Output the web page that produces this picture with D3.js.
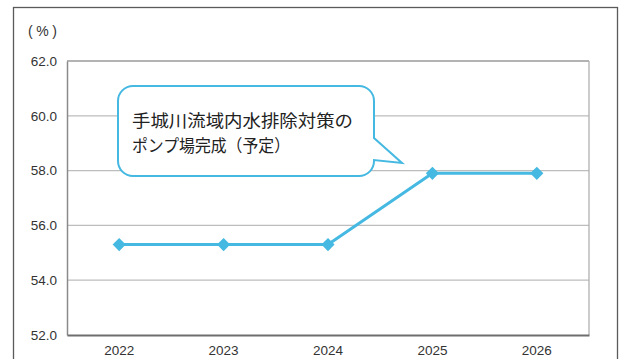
<!DOCTYPE html>
<html>
<head>
<meta charset="utf-8">
<script src="https://cdn.jsdelivr.net/npm/d3@7"></script>
<style>
  html, body { margin: 0; padding: 0; background: #fff; }
  svg { display: block; }
</style>
</head>
<body>
<svg id="chart" width="622" height="359"></svg>
<script>
// Years on the x axis and the projected rate (%) for each
const years = ["2022", "2023", "2024", "2025", "2026"];
const rates = [55.3, 55.3, 55.3, 57.9, 57.9];
const yTicks = [52, 54, 56, 58, 60, 62];
const unitLabel = "(%)";
const noteLines = ["手城川流域内水排除対策の", "ポンプ場完成（予定）"];

const svg = d3.select("#chart");
const margin = { left: 67, right: 33, top: 61, bottom: 24 };
const W = 622, H = 359;
const plotW = W - margin.left - margin.right;
const plotH = H - margin.top - margin.bottom;

const numFont = "'Liberation Sans', Arial, sans-serif";
const jpFont = "'Noto Sans CJK JP', sans-serif";
const blue = "#45b9e1";

// outer frame
svg.append("rect")
  .attr("x", 13.5).attr("y", 7.5)
  .attr("width", 604).attr("height", 400)
  .attr("fill", "none").attr("stroke", "#5a5a5a").attr("stroke-width", 1.3);

const x = d3.scaleBand().domain(years).range([0, plotW]);
const y = d3.scaleLinear().domain([52, 62]).range([plotH, 0]);

const g = svg.append("g").attr("transform", `translate(${margin.left},${margin.top})`);

// horizontal grid lines
g.append("g")
  .selectAll("line")
  .data(yTicks.filter(t => t > 52 && t < 62))
  .join("line")
  .attr("x1", 0).attr("x2", plotW)
  .attr("y1", d => y(d)).attr("y2", d => y(d))
  .attr("stroke", "#bdbdbd").attr("stroke-width", 1.3);

// top and right frame of the plot
g.append("line").attr("x1", 0).attr("x2", plotW).attr("y1", 0).attr("y2", 0)
  .attr("stroke", "#9a9a9a").attr("stroke-width", 1.3);
g.append("line").attr("x1", plotW).attr("x2", plotW).attr("y1", 0).attr("y2", plotH)
  .attr("stroke", "#b0b0b0").attr("stroke-width", 1.3);

// y axis
const yAxis = g.append("g")
  .call(d3.axisLeft(y).tickValues(yTicks).tickFormat(d3.format(".1f")).tickSize(0).tickPadding(10));
yAxis.select(".domain").attr("stroke", "#8a8a8a").attr("stroke-width", 1.5);
yAxis.selectAll("text")
  .attr("font-family", numFont).attr("font-size", 13.5).attr("fill", "#333");

// x axis
const xAxis = g.append("g")
  .attr("transform", `translate(0,${plotH})`)
  .call(d3.axisBottom(x).tickSize(0).tickPadding(10));
xAxis.select(".domain").attr("stroke", "#6e6e6e").attr("stroke-width", 2);
xAxis.selectAll("text")
  .attr("font-family", numFont).attr("font-size", 13.5).attr("fill", "#333");

// unit label
svg.append("text")
  .attr("x", 28).attr("y", 36)
  .attr("font-family", numFont).attr("font-size", 14).attr("fill", "#333")
  .attr("textLength", 29).attr("lengthAdjust", "spacing")
  .text(unitLabel);

// series line and markers
const cx = d => x(d) + x.bandwidth() / 2;
const line = d3.line().x((d, i) => cx(years[i])).y(d => y(d));
g.append("path")
  .datum(rates)
  .attr("d", line)
  .attr("fill", "none").attr("stroke", blue).attr("stroke-width", 3);

g.selectAll(".pt")
  .data(rates)
  .join("path")
  .attr("class", "pt")
  .attr("transform", (d, i) => `translate(${cx(years[i])},${y(d)})`)
  .attr("d", d3.symbol(d3.symbolDiamond2, 110)())
  .attr("fill", blue);

// callout box with pointer toward the 2025 point
const bx = 118, by = 86, bw = 256, bh = 90, r = 15;
const tipX = 402, tipY = 163;
const t1 = 138, t2 = 160;
const callout = d3.path();
callout.moveTo(bx + r, by);
callout.lineTo(bx + bw - r, by);
callout.arcTo(bx + bw, by, bx + bw, by + r, r);
callout.lineTo(bx + bw, t1);
callout.lineTo(tipX, tipY);
callout.lineTo(bx + bw, t2);
callout.lineTo(bx + bw, by + bh - r);
callout.arcTo(bx + bw, by + bh, bx + bw - r, by + bh, r);
callout.lineTo(bx + r, by + bh);
callout.arcTo(bx, by + bh, bx, by + bh - r, r);
callout.lineTo(bx, by + r);
callout.arcTo(bx, by, bx + r, by, r);
callout.closePath();
svg.append("path")
  .attr("d", callout.toString())
  .attr("fill", "#fff").attr("stroke", blue).attr("stroke-width", 2);

const noteWidths = [221, 158];
svg.append("g")
  .selectAll("text")
  .data(noteLines)
  .join("text")
  .attr("x", 132)
  .attr("y", (d, i) => 127 + i * 25)
  .attr("font-family", jpFont).attr("font-size", 17).attr("fill", "#222")
  .attr("textLength", (d, i) => noteWidths[i])
  .attr("lengthAdjust", "spacingAndGlyphs")
  .text(d => d);
</script>
</body>
</html>
